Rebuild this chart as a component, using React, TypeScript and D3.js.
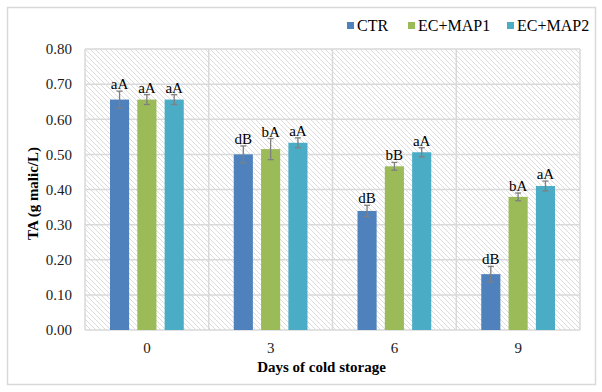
import React, { useRef, useEffect } from 'react';
import * as d3 from 'd3';

// chart data
const days = ['0', '3', '6', '9'];
const seriesNames = ['CTR', 'EC+MAP1', 'EC+MAP2'];
const ctrValues = [0.656, 0.5, 0.339, 0.159];
const map1Values = [0.656, 0.515, 0.466, 0.379];
const map2Values = [0.656, 0.533, 0.506, 0.41];
const ctrErrors = [0.024, 0.024, 0.016, 0.022];
const map1Errors = [0.014, 0.03, 0.011, 0.011];
const map2Errors = [0.014, 0.014, 0.013, 0.014];
const ctrLabels = ['aA', 'dB', 'dB', 'dB'];
const map1Labels = ['aA', 'bA', 'bB', 'bA'];
const map2Labels = ['aA', 'aA', 'aA', 'aA'];
const yTicks = [0, 0.1, 0.2, 0.3, 0.4, 0.5, 0.6, 0.7, 0.8];

const colors = ['#4F81BD', '#9BBB59', '#4BACC6'];

const App = () => {
    const svgRef = useRef<SVGSVGElement>(null);

    useEffect(() => {
        const width = 602;
        const height = 392;
        const margin = { top: 49, right: 22, bottom: 62, left: 85 };
        const innerWidth = width - margin.left - margin.right;
        const innerHeight = height - margin.top - margin.bottom;
        const font = "'Liberation Serif', Tinos, 'Times New Roman', 'DejaVu Serif', serif";

        const root = d3.select(svgRef.current);
        root.selectAll('*').remove();
        root.attr('width', width).attr('height', height).attr('font-family', font);

        // hatch pattern for the plot background
        const defs = root.append('defs');
        const pat = defs.append('pattern')
            .attr('id', 'hatch')
            .attr('patternUnits', 'userSpaceOnUse')
            .attr('width', 5)
            .attr('height', 5);
        pat.append('rect').attr('width', 5).attr('height', 5).attr('fill', '#fff');
        pat.append('path')
            .attr('d', 'M-1,-1 L6,6 M-1,4 L1,6 M4,-1 L6,1')
            .attr('stroke', '#dcdcdc')
            .attr('stroke-width', 1);

        // outer frame
        root.append('rect')
            .attr('x', 7.5).attr('y', 7.5)
            .attr('width', 588).attr('height', 377)
            .attr('fill', '#fff')
            .attr('stroke', '#d9d9d9')
            .attr('stroke-width', 1.5);

        const svg = root.append('g').attr('transform', `translate(${margin.left},${margin.top})`);

        const x0 = d3.scaleBand().domain(days).range([0, innerWidth]).padding(0);
        const x1 = d3.scaleBand().domain(seriesNames).range([25, x0.bandwidth() - 25]).paddingInner(0.3);
        const y = d3.scaleLinear().domain([0, 0.8]).range([innerHeight, 0]);

        svg.append('rect')
            .attr('width', innerWidth)
            .attr('height', innerHeight)
            .attr('fill', 'url(#hatch)');

        // gridlines
        svg.append('g').selectAll('line')
            .data(yTicks)
            .join('line')
            .attr('x1', 0).attr('x2', innerWidth)
            .attr('y1', d => y(d)).attr('y2', d => y(d))
            .attr('stroke', '#d9d9d9').attr('stroke-width', 1.5);

        const bounds = days.map(d => x0(d) as number).concat([innerWidth]);
        svg.append('g').selectAll('line')
            .data(bounds)
            .join('line')
            .attr('x1', d => d).attr('x2', d => d)
            .attr('y1', 0).attr('y2', innerHeight)
            .attr('stroke', '#d9d9d9').attr('stroke-width', 1.5);

        const allValues = [ctrValues, map1Values, map2Values];
        const allErrors = [ctrErrors, map1Errors, map2Errors];
        const allLabels = [ctrLabels, map1Labels, map2Labels];

        const rows = days.flatMap((day, i) => seriesNames.map((s, j) => ({
            day, s, j,
            v: allValues[j][i],
            e: allErrors[j][i],
            label: allLabels[j][i],
        })));

        const g = svg.append('g');
        g.selectAll('rect')
            .data(rows)
            .join('rect')
            .attr('x', d => (x0(d.day) as number) + (x1(d.s) as number))
            .attr('y', d => y(d.v))
            .attr('width', x1.bandwidth())
            .attr('height', d => innerHeight - y(d.v))
            .attr('fill', d => colors[d.j]);

        // error bars
        const cx = (d: any) => (x0(d.day) as number) + (x1(d.s) as number) + x1.bandwidth() / 2;
        const eb = svg.append('g').attr('stroke', '#7f7f7f').attr('stroke-width', 1.3);
        eb.selectAll('line.v')
            .data(rows)
            .join('line')
            .attr('class', 'v')
            .attr('x1', cx).attr('x2', cx)
            .attr('y1', d => y(d.v + d.e)).attr('y2', d => y(d.v - d.e));
        eb.selectAll('line.t')
            .data(rows)
            .join('line')
            .attr('class', 't')
            .attr('x1', d => cx(d) - 3).attr('x2', d => cx(d) + 3)
            .attr('y1', d => y(d.v + d.e)).attr('y2', d => y(d.v + d.e));
        eb.selectAll('line.b')
            .data(rows)
            .join('line')
            .attr('class', 'b')
            .attr('x1', d => cx(d) - 3).attr('x2', d => cx(d) + 3)
            .attr('y1', d => y(d.v - d.e)).attr('y2', d => y(d.v - d.e));

        // letter labels
        svg.append('g').selectAll('text')
            .data(rows)
            .join('text')
            .attr('x', cx)
            .attr('y', d => y(d.v + d.e) - 2)
            .attr('text-anchor', 'middle')
            .attr('font-size', 15)
            .attr('fill', '#000')
            .text(d => d.label);

        // y axis labels
        svg.append('g').selectAll('text')
            .data(yTicks)
            .join('text')
            .attr('x', -13)
            .attr('y', d => y(d))
            .attr('dy', '0.35em')
            .attr('text-anchor', 'end')
            .attr('font-size', 15)
            .attr('fill', '#1a1a1a')
            .text(d => d.toFixed(2));

        // x axis labels
        svg.append('g').selectAll('text')
            .data(days)
            .join('text')
            .attr('x', d => (x0(d) as number) + x0.bandwidth() / 2)
            .attr('y', innerHeight + 18)
            .attr('dy', '0.35em')
            .attr('text-anchor', 'middle')
            .attr('font-size', 15)
            .attr('fill', '#1a1a1a')
            .text(d => d);

        svg.append('text')
            .attr('x', innerWidth / 2 - 11)
            .attr('y', innerHeight + 42)
            .attr('text-anchor', 'middle')
            .attr('font-size', 15)
            .attr('font-weight', 'bold')
            .text('Days of cold storage');

        svg.append('text')
            .attr('transform', `translate(${38 - margin.left},${innerHeight / 2 + 4}) rotate(-90)`)
            .attr('text-anchor', 'middle')
            .attr('font-size', 15)
            .attr('font-weight', 'bold')
            .text('TA (g malic/L)');

        // legend
        const legendX = [347, 408, 507];
        const leg = root.append('g');
        seriesNames.forEach((s, j) => {
            leg.append('rect')
                .attr('x', legendX[j]).attr('y', 22)
                .attr('width', 7).attr('height', 7)
                .attr('fill', colors[j]);
            leg.append('text')
                .attr('x', legendX[j] + 10)
                .attr('y', 30.5)
                .attr('font-size', 16)
                .attr('fill', '#000')
                .text(s);
        });
    }, []);

    return (
        <div style={{ position: 'fixed', left: 0, top: 0 }}>
            <svg ref={svgRef} style={{ display: 'block' }}></svg>
        </div>
    );
};

export default App;
